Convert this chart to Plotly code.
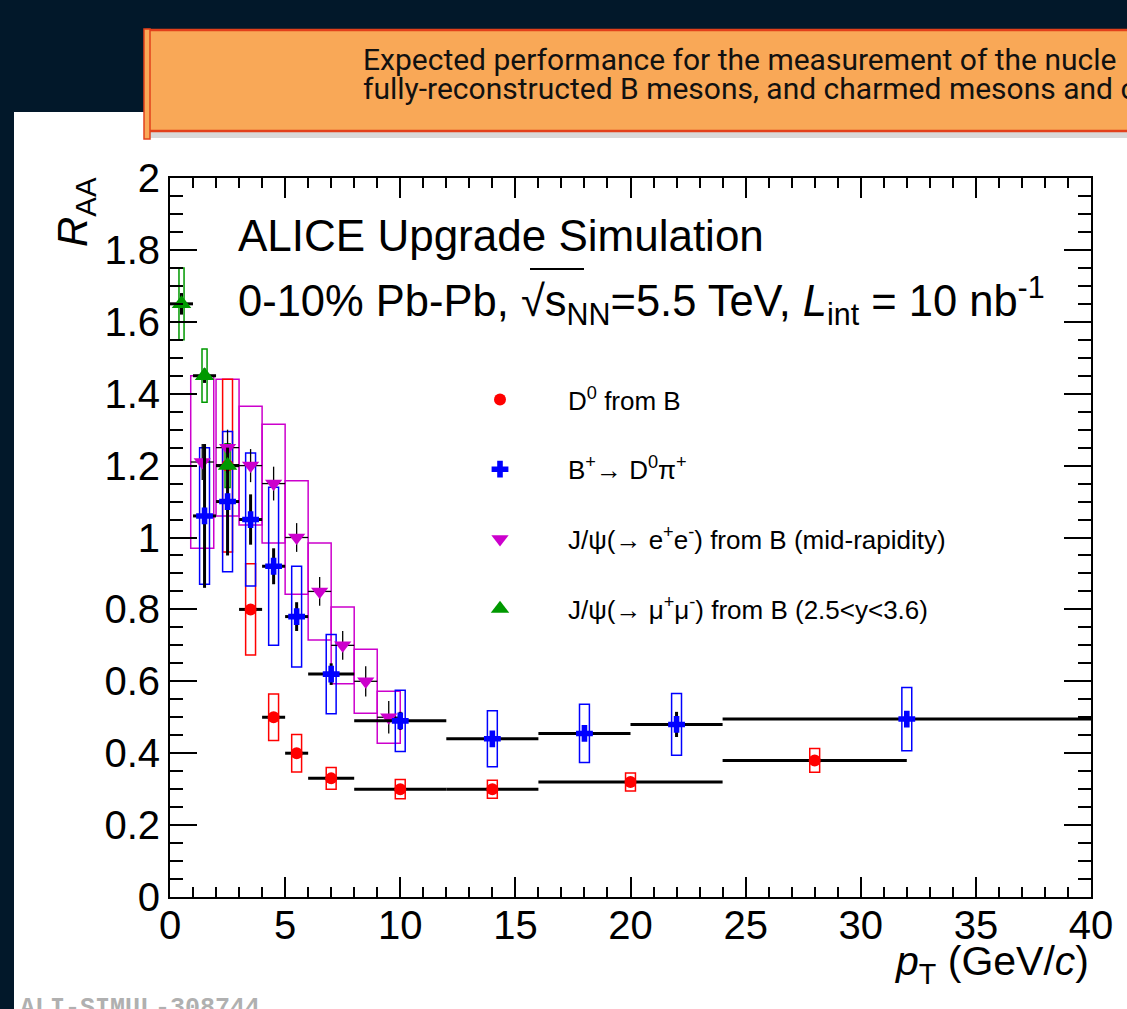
import plotly.graph_objects as go

# ---------------- data ----------------
# D0 from B
d0_x = [2.5, 3.5, 4.5, 5.5, 7, 10, 14, 20, 28]
d0_y = [1.20, 0.80, 0.50, 0.40, 0.33, 0.30, 0.30, 0.32, 0.38]
d0_binhalf = [0.5, 0.5, 0.5, 0.5, 1, 2, 2, 4, 4]
d0_stat = [0.01, 0.01, 0.01, 0.01, 0.01, 0.008, 0.008, 0.008, 0.01]
d0_sys = [0.24, 0.127, 0.065, 0.052, 0.03, 0.027, 0.025, 0.025, 0.033]

# B+ -> D0 pi+
bp_x = [1.5, 2.5, 3.5, 4.5, 5.5, 7, 10, 14, 18, 22, 32]
bp_y = [1.06, 1.10, 1.05, 0.92, 0.78, 0.62, 0.49, 0.44, 0.455, 0.48, 0.495]
bp_binhalf = [0.5, 0.5, 0.5, 0.5, 0.5, 1, 2, 2, 2, 2, 8]
bp_stat = [0.20, 0.15, 0.07, 0.05, 0.04, 0.03, 0.025, 0.02, 0.02, 0.035, 0.022]
bp_sys = [0.19, 0.195, 0.185, 0.22, 0.14, 0.11, 0.085, 0.078, 0.081, 0.086, 0.088]

# J/psi -> e+e- from B (mid-rapidity)
jee_x = [1.4, 2.5, 3.5, 4.5, 5.5, 6.5, 7.5, 8.5, 9.5]
jee_y = [1.21, 1.25, 1.20, 1.15, 1.00, 0.85, 0.70, 0.60, 0.50]
jee_binhalf = [0.5, 0.5, 0.5, 0.5, 0.5, 0.5, 0.5, 0.5, 0.5]
jee_stat = [0.05, 0.05, 0.046, 0.047, 0.04, 0.04, 0.04, 0.042, 0.045]
jee_sys = [0.24, 0.19, 0.165, 0.165, 0.158, 0.135, 0.107, 0.089, 0.072]

# J/psi -> mu+mu- from B (2.5<y<3.6)
jmm_x = [0.5, 1.5, 2.5]
jmm_y = [1.65, 1.45, 1.20]
jmm_binhalf = [0.5, 0.5, 0.5]
jmm_stat = [0.03, 0.02, 0.02]
jmm_sys = [0.10, 0.074, 0.061]

x_ticks = [0, 5, 10, 15, 20, 25, 30, 35, 40]
y_ticks = [0, 0.2, 0.4, 0.6, 0.8, 1, 1.2, 1.4, 1.6, 1.8, 2]
y_ticklabels = ["0", "0.2", "0.4", "0.6", "0.8", "1", "1.2", "1.4", "1.6", "1.8", "2"]

legend_names = [
    "D<sup>0</sup> from B",
    "B<sup>+</sup>\u2192 D<sup>0</sup>\u03c0<sup>+</sup>",
    "J/\u03c8(\u2192 e<sup>+</sup>e<sup>-</sup>) from B (mid-rapidity)",
    "J/\u03c8(\u2192 \u03bc<sup>+</sup>\u03bc<sup>-</sup>) from B (2.5&lt;y&lt;3.6)",
]

# ---------------- layout helpers ----------------
W, H = 1127, 1009
ML, MR, MT, MB = 170, 36, 178, 112
PW, PH = W - ML - MR, H - MT - MB


def px2x(px):
    return (px - ML) / PW


def px2y(py):
    return (H - MB - py) / PH


FONT = "Liberation Sans, Arial, sans-serif"
RED, BLUE, MAG, GREEN = "#ff0000", "#0000ff", "#cc00cc", "#009900"

fig = go.Figure()


def sys_boxes(xs, ys, sys, width, color, lw):
    fig.add_trace(go.Bar(
        x=xs, y=[2 * s for s in sys], base=[y - s for y, s in zip(ys, sys)],
        width=width, marker=dict(color="rgba(0,0,0,0)", line=dict(color=color, width=lw)),
        showlegend=False, hoverinfo="skip"))


sys_boxes(jee_x, jee_y, jee_sys, 1.0, MAG, 1.5)
sys_boxes(d0_x, d0_y, d0_sys, 0.43, RED, 1.5)
sys_boxes(bp_x, bp_y, bp_sys, 0.43, BLUE, 1.5)
sys_boxes(jmm_x, jmm_y, jmm_sys, 0.22, GREEN, 1.5)


def points(xs, ys, bh, st, color, symbol, size, name, thick, group, rank):
    fig.add_trace(go.Scatter(
        x=xs, y=ys, mode="markers", name=name, legendgroup=group, legendrank=rank,
        marker=dict(color=color, symbol=symbol, size=size, line=dict(width=0)),
        error_x=dict(type="data", array=bh, symmetric=True, color="black", thickness=thick, width=0),
        error_y=dict(type="data", array=st, symmetric=True, color="black", thickness=thick, width=0),
    ))


points(jee_x, jee_y, jee_binhalf, jee_stat, MAG, "triangle-down", 15, legend_names[2], 1.3, "c", 3)
points(d0_x, d0_y, d0_binhalf, d0_stat, RED, "circle", 12, legend_names[0], 3, "a", 1)
points(bp_x, bp_y, bp_binhalf, bp_stat, BLUE, "cross", 14, legend_names[1], 3, "b", 2)
points(jmm_x, jmm_y, jmm_binhalf, jmm_stat, GREEN, "triangle-up", 17, legend_names[3], 3, "d", 4)

shapes = []
# white panel
shapes.append(dict(type="rect", xref="paper", yref="paper", layer="below",
                   x0=px2x(14), x1=px2x(W), y0=px2y(H), y1=px2y(112),
                   fillcolor="white", line=dict(width=0)))
# callout shadow
shapes.append(dict(type="rect", xref="paper", yref="paper",
                   x0=px2x(150), x1=px2x(W), y0=px2y(138), y1=px2y(131),
                   fillcolor="rgba(0,0,0,0.15)", line=dict(width=0)))
# callout box
shapes.append(dict(type="rect", xref="paper", yref="paper",
                   x0=px2x(147), x1=px2x(W + 4), y0=px2y(131), y1=px2y(30),
                   fillcolor="#f9a857", line=dict(color="#e2401b", width=2.5)))
# scroll edge
shapes.append(dict(type="rect", xref="paper", yref="paper",
                   x0=px2x(144), x1=px2x(150), y0=px2y(139), y1=px2y(29),
                   fillcolor="#f9a857", line=dict(color="#e2401b", width=1.5)))
# overline of the square root
shapes.append(dict(type="line", xref="paper", yref="paper",
                   x0=px2x(530), x1=px2x(584), y0=px2y(269), y1=px2y(269),
                   line=dict(color="black", width=2)))

annotations = [
    dict(text="Expected performance for the measurement of the nucle", xref="paper", yref="paper",
         x=px2x(361), y=px2y(60), xanchor="left", yanchor="middle", showarrow=False,
         font=dict(family="Roboto", size=30, color="#111111")),
    dict(text="fully-reconstructed B mesons, and charmed mesons and c", xref="paper", yref="paper",
         x=px2x(361), y=px2y(89), xanchor="left", yanchor="middle", showarrow=False,
         font=dict(family="Roboto", size=30, color="#111111")),
    dict(text="ALICE Upgrade Simulation", xref="paper", yref="paper",
         x=px2x(236), y=px2y(235), xanchor="left", yanchor="middle", showarrow=False,
         font=dict(family=FONT, size=44, color="black")),
    dict(text="0-10% Pb-Pb, \u221as<sub>NN</sub>=5.5 TeV, "
              "<i>L</i><sub>int</sub> = 10 nb<sup>-1</sup>",
         xref="paper", yref="paper",
         x=px2x(236), y=px2y(300), xanchor="left", yanchor="middle", showarrow=False,
         font=dict(family=FONT, size=43.5, color="black")),
    dict(text="<i>R</i><sub>AA</sub>", xref="paper", yref="paper", textangle=-90,
         x=px2x(75), y=px2y(212), xanchor="center", yanchor="middle", showarrow=False,
         font=dict(family=FONT, size=42, color="black")),
    dict(text="<i>p</i><sub>T</sub> (GeV/<i>c</i>)", xref="paper", yref="paper",
         x=px2x(1091), y=px2y(964), xanchor="right", yanchor="middle", showarrow=False,
         font=dict(family=FONT, size=41, color="black")),
    dict(text="<b>ALI-SIMUL-308744</b>", xref="paper", yref="paper",
         x=px2x(18), y=px2y(992), xanchor="left", yanchor="top", showarrow=False,
         font=dict(family="Liberation Mono, monospace", size=25, color="#b0b0b0")),
]

fig.update_layout(
    width=W, height=H,
    margin=dict(l=ML, r=MR, t=MT, b=MB, pad=0),
    paper_bgcolor="#02182a", plot_bgcolor="white",
    barmode="overlay",
    shapes=shapes, annotations=annotations,
    font=dict(family=FONT, color="black"),
    legend=dict(x=px2x(432), y=px2y(376), xanchor="left", yanchor="top",
                bgcolor="rgba(0,0,0,0)", font=dict(family=FONT, size=26, color="black"),
                tracegroupgap=33, itemwidth=126, traceorder="grouped"),
    xaxis=dict(range=[0, 40], tickvals=x_ticks, ticks="inside", ticklen=20, tickwidth=1.5,
               tickcolor="black", showline=True, linecolor="black", linewidth=2, mirror="ticks",
               showgrid=False, zeroline=False, tickfont=dict(family=FONT, size=40, color="black"),
               ticklabelstandoff=-8,
               minor=dict(dtick=1, ticks="inside", ticklen=10, tickwidth=1.5, tickcolor="black", showgrid=False)),
    yaxis=dict(range=[0, 2], tickvals=y_ticks, ticktext=y_ticklabels, ticks="inside", ticklen=27, tickwidth=1.5,
               tickcolor="black", showline=True, linecolor="black", linewidth=2, mirror="ticks",
               showgrid=False, zeroline=False, tickfont=dict(family=FONT, size=40, color="black"),
               minor=dict(dtick=0.05, ticks="inside", ticklen=13, tickwidth=1.5, tickcolor="black", showgrid=False)),
)

fig.write_html("out.html")
